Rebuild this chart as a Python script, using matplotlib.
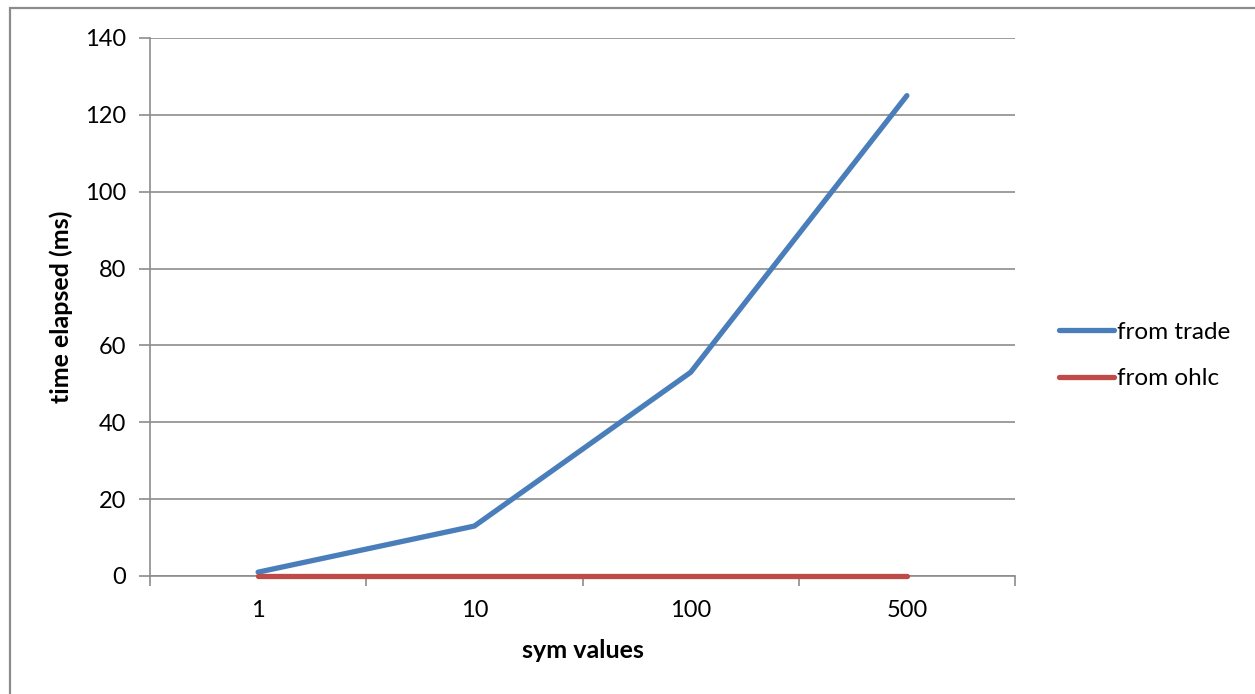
import matplotlib
matplotlib.use("Agg")
import matplotlib.pyplot as plt
from matplotlib.patches import Rectangle

plt.rcParams['font.family'] = ['Lato', 'DejaVu Sans']

categories = ["1", "10", "100", "500"]
from_trade = [1, 13, 53, 125]
from_ohlc = [0, 0, 0, 0]
yticks = [0, 20, 40, 60, 80, 100, 120, 140]

W, H = 1255, 694
fig = plt.figure(figsize=(W / 100, H / 100), dpi=100)
fig.patch.set_facecolor("white")

# outer chart border (only top/left visible)
fig.add_artist(Rectangle((10 / W, -0.05), 1.2, (H - 8) / H + 0.05,
                         transform=fig.transFigure, fill=False,
                         edgecolor="#8c8c8c", linewidth=1.6))

ax = fig.add_axes([150 / W, (H - 576) / H, (1015 - 150) / W, (576 - 38) / H])
x = list(range(len(categories)))
ax.plot(x, from_trade, color="#4a7ebb", linewidth=3.8, solid_capstyle="round",
        label="from trade", zorder=4, clip_on=False)
ax.plot(x, from_ohlc, color="#be4b48", linewidth=3.8, solid_capstyle="round",
        label="from ohlc", zorder=4, clip_on=False)

ax.set_xlim(-0.5, len(categories) - 0.5)
ax.set_ylim(0, 140)
ax.set_yticks(yticks)
ax.set_yticklabels([str(v) for v in yticks])
ax.set_xticks(x)
ax.set_xticklabels(categories)
ax.set_xticks([i - 0.5 for i in range(len(categories) + 1)], minor=True)
ax.tick_params(axis="x", which="major", length=0, pad=17, labelsize=17)
ax.tick_params(axis="x", which="minor", length=7, width=1.2, color="#8c8c8c", direction="out")
ax.tick_params(axis="y", which="major", length=8, width=1.2, color="#8c8c8c", direction="out", pad=9, labelsize=17)
ax.grid(axis="y", color="#8c8c8c", linewidth=1.2)
ax.set_axisbelow(True)
for s in ["top", "right"]:
    ax.spines[s].set_visible(False)
for s in ["left", "bottom"]:
    ax.spines[s].set_color("#8c8c8c")
    ax.spines[s].set_linewidth(1.2)
    ax.spines[s].set_zorder(2)

ax.set_xlabel("sym values", fontsize=18, fontweight="bold", labelpad=13)
ax.set_ylabel("time elapsed (ms)", fontsize=18, fontweight="bold", labelpad=9)

leg = ax.legend(loc="center left", bbox_to_anchor=(1.025, 0.41), frameon=False,
                fontsize=17.5, handlelength=2.3, handletextpad=0.1, labelspacing=1.05)

fig.savefig("out.png", dpi=100, facecolor="white")
